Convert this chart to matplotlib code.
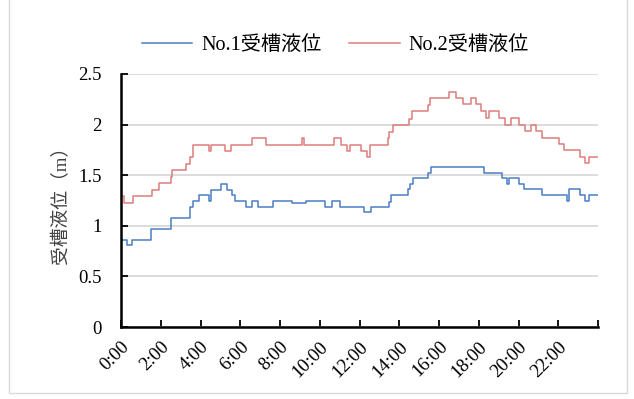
import matplotlib
matplotlib.use("Agg")
import matplotlib.pyplot as plt
from matplotlib.patches import Rectangle

plt.rcParams['font.family'] = ['Liberation Serif', 'Noto Sans CJK JP']

# Tank level readings: change points (hour of day) and level (m) held until the next point
t1 = [0, 0.3, 0.54, 1.5, 2.5, 3.45, 3.6, 3.92, 4.42, 4.53, 5.03, 5.35, 5.6, 5.74,
      6.27, 6.6, 6.87, 7.63, 8.62, 9.31, 10.26, 10.6, 11.02, 12.22, 12.58, 13.5,
      13.58, 14.46, 14.55, 14.68, 15.46, 15.6, 18.26, 19.15, 19.4, 19.5, 20.03,
      20.28, 21.18, 22.42, 22.56, 23.09, 23.35, 23.55, 24]
v1 = [0.86, 0.81, 0.86, 0.97, 1.08, 1.19, 1.25, 1.30, 1.25, 1.35, 1.41, 1.35, 1.30, 1.25,
      1.19, 1.25, 1.19, 1.25, 1.23, 1.25, 1.19, 1.25, 1.19, 1.14, 1.19, 1.24,
      1.30, 1.36, 1.41, 1.47, 1.52, 1.58, 1.52, 1.47, 1.41, 1.47, 1.41,
      1.36, 1.30, 1.25, 1.36, 1.30, 1.25, 1.30, 1.30]

t2 = [0, 0.15, 0.59, 1.54, 1.93, 2.5, 2.58, 3.27, 3.47, 3.6, 4.43, 4.53, 5.23, 5.52,
      6.61, 7.3, 9.09, 9.22, 10.73, 11.05, 11.36, 11.5, 12.08, 12.39, 12.51, 13.45,
      13.5, 13.7, 14.49, 14.62, 15.43, 15.55, 16.52, 16.86, 17.22, 17.61, 17.85,
      18.1, 18.38, 18.5, 19.03, 19.33, 19.6, 20.0, 20.33, 20.63, 20.9, 21.18, 22.02,
      22.29, 23.11, 23.36, 23.55, 24]
v2 = [1.29, 1.23, 1.29, 1.35, 1.42, 1.48, 1.55, 1.61, 1.68, 1.80, 1.74, 1.80, 1.74, 1.80,
      1.87, 1.80, 1.87, 1.80, 1.87, 1.80, 1.74, 1.80, 1.74, 1.68, 1.80, 1.87,
      1.93, 2.00, 2.06, 2.13, 2.19, 2.26, 2.32, 2.26, 2.20, 2.26, 2.20,
      2.13, 2.07, 2.13, 2.07, 2.00, 2.07, 2.00, 1.94, 2.00, 1.94, 1.87, 1.81,
      1.75, 1.68, 1.62, 1.68, 1.68]

series_names = ["No.1受槽液位", "No.2受槽液位"]
hour_ticks = list(range(0, 25, 2))
hour_labels = [f"{h}:00" for h in range(0, 24, 2)] + [""]
y_ticks = [0, 0.5, 1, 1.5, 2, 2.5]
y_labels = ["0", "0.5", "1", "1.5", "2", "2.5"]

fig = plt.figure(figsize=(6.34, 3.99), dpi=100)
fig.patches.append(Rectangle((9 / 634, 6 / 399), 618 / 634, 400 / 399,
                             transform=fig.transFigure, fill=False,
                             edgecolor="#d9d9d9", linewidth=1.0))
ax = fig.add_axes([121 / 634, 1 - 327 / 399, 477 / 634, 253 / 399])

ax.plot(t1, v1, drawstyle="steps-post", color="#4a7ec4", linewidth=1.1, label=series_names[0])
ax.plot(t2, v2, drawstyle="steps-post", color="#dc7d7a", linewidth=1.1, label=series_names[1])

ax.set_xlim(0, 24)
ax.set_ylim(0, 2.5)
ax.set_xticks(hour_ticks)
ax.set_xticklabels(hour_labels, rotation=45, ha="right", va="top",
                   rotation_mode="anchor", fontsize=13.5)
ax.set_yticks(y_ticks)
ax.set_yticklabels(y_labels, fontsize=13.5)
ax.tick_params(axis="both", direction="in", length=5, width=1.3, colors="black")
ax.tick_params(axis="x", pad=8)
ax.tick_params(axis="y", pad=14)

ax.grid(axis="y", color="#d9d9d9", linewidth=1.3)
ax.set_axisbelow(True)
for side in ("top", "right"):
    ax.spines[side].set_visible(False)
for side in ("left", "bottom"):
    ax.spines[side].set_linewidth(1.8)
    ax.spines[side].set_color("black")

ax.set_ylabel("受槽液位（m）", fontsize=13.5, color="#404040", labelpad=6)

fig.legend(loc="center", bbox_to_anchor=(0.529, 1 - 45 / 399), ncol=2, frameon=False,
           fontsize=14.5, handlelength=2.5, handletextpad=0.45, columnspacing=1.4)

fig.savefig("out.png", dpi=100)
